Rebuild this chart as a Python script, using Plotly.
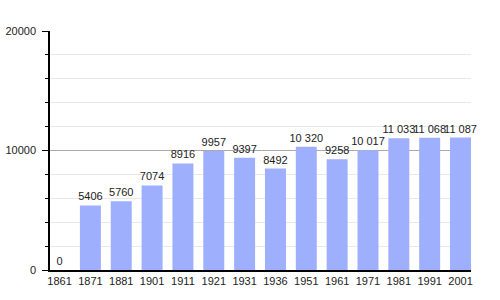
import plotly.graph_objects as go

years = ["1861", "1871", "1881", "1901", "1911", "1921", "1931", "1936",
         "1951", "1961", "1971", "1981", "1991", "2001"]
population = [0, 5406, 5760, 7074, 8916, 9957, 9397, 8492,
              10320, 9258, 10017, 11033, 11068, 11087]
labels = ["0", "5406", "5760", "7074", "8916", "9957", "9397", "8492",
          "10 320", "9258", "10 017", "11 033", "11 068", "11 087"]

fig = go.Figure(go.Bar(
    x=years, y=population, text=labels, textposition="outside",
    cliponaxis=False, width=0.68, constraintext="none",
    marker=dict(color="#9eaffd", line=dict(width=0)),
    textfont=dict(family="Liberation Sans, Arial", size=11, color="#222"),
))

fig.update_layout(
    width=500, height=300,
    margin=dict(l=50, r=29, t=31, b=30),
    plot_bgcolor="white", paper_bgcolor="white",
    showlegend=False,
    font=dict(family="Liberation Sans, Arial", size=11, color="#222"),
)
fig.update_xaxes(
    type="category", range=[-0.31, 13.34], automargin=False,
    showline=True, linecolor="black", linewidth=1.5,
    ticks="", showgrid=False, tickfont=dict(size=11),
)
fig.update_yaxes(
    range=[0, 20000], tickvals=[0, 10000, 20000],
    ticktext=["0", "10000", "20000"], automargin=False,
    showline=True, linecolor="black", linewidth=1.5,
    ticks="outside", ticklen=6, tickcolor="black",
    ticklabelstandoff=4,
    showgrid=True, gridcolor="#aaaaaa", gridwidth=1,
    zeroline=False,
    minor=dict(dtick=2000, ticks="outside", ticklen=3, tickcolor="black",
               showgrid=True, gridcolor="#e8e8e8"),
    tickfont=dict(size=11),
)

fig.write_html("out.html")
